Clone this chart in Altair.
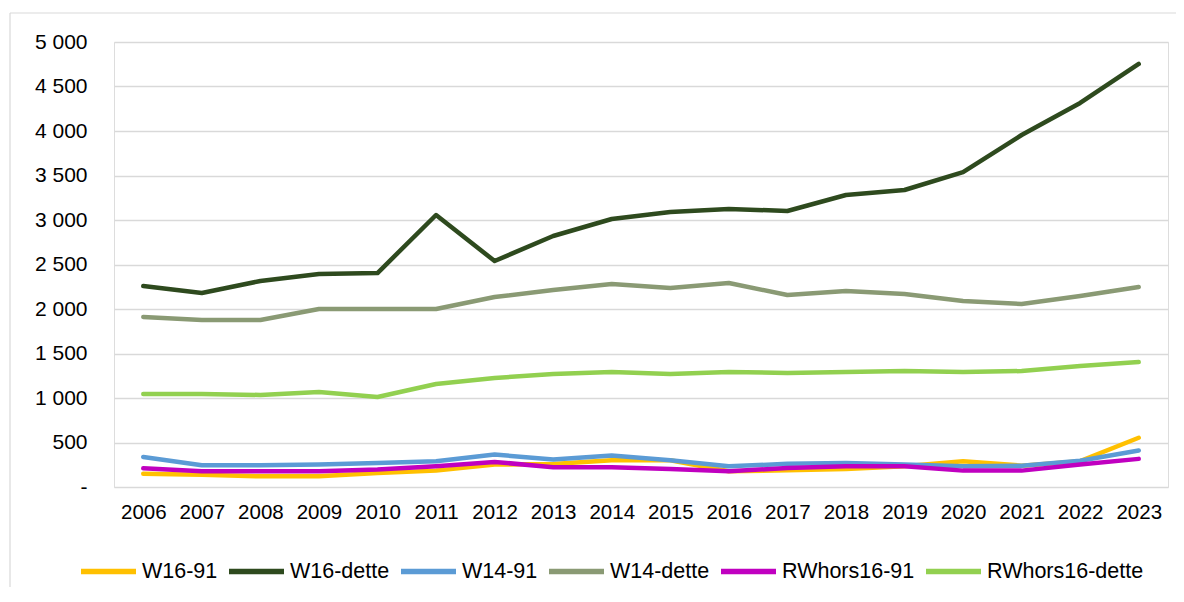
import altair as alt
import pandas as pd

years = [str(y) for y in range(2006, 2024)]
series_names = ["W16-91", "W16-dette", "W14-91", "W14-dette", "RWhors16-91", "RWhors16-dette"]
series_colors = ["#FFC000", "#2E4A1E", "#5B9BD5", "#8A9A74", "#C000C0", "#92D050"]

w16_91 = [150, 139, 120, 120, 158, 184, 252, 259, 300, 300, 177, 188, 203, 233, 290, 240, 290, 553]
w16_dette = [2258, 2180, 2315, 2393, 2404, 3056, 2539, 2820, 3011, 3090, 3124, 3101, 3281, 3337, 3539, 3955, 4315, 4753]
w14_91 = [338, 244, 244, 252, 270, 290, 365, 308, 355, 300, 233, 260, 270, 252, 233, 240, 295, 410]
w14_dette = [1910, 1876, 1876, 2000, 2000, 2000, 2135, 2213, 2281, 2236, 2292, 2157, 2202, 2168, 2090, 2056, 2146, 2247]
rw16_91 = [210, 177, 177, 177, 196, 233, 282, 222, 222, 203, 177, 214, 233, 233, 184, 184, 252, 316]
rw16_dette = [1045, 1045, 1034, 1067, 1011, 1157, 1225, 1270, 1292, 1270, 1292, 1281, 1292, 1303, 1292, 1303, 1360, 1404]

y_ticks = [0, 500, 1000, 1500, 2000, 2500, 3000, 3500, 4000, 4500, 5000]

all_series = [w16_91, w16_dette, w14_91, w14_dette, rw16_91, rw16_dette]
rows = []
for i, (name, vals) in enumerate(zip(series_names, all_series)):
    for y, v in zip(years, vals):
        rows.append({"year": y, "series": name, "value": v, "ord": i})
df = pd.DataFrame(rows)

FONT = "Liberation Sans"
W, H = 1054, 445

lines = alt.Chart(df).mark_line(strokeWidth=4.5, strokeCap="round", strokeJoin="round").encode(
    x=alt.X("year:N", sort=years, scale=alt.Scale(padding=0.5),
            axis=alt.Axis(title=None, domain=False, ticks=False, grid=False,
                          labelAngle=0, labelFontSize=20.5, labelPadding=15,
                          labelColor="#000000", labelFont=FONT)),
    y=alt.Y("value:Q", scale=alt.Scale(domain=[0, 5000], nice=False),
            axis=alt.Axis(title=None, values=y_ticks, domain=False, ticks=False,
                          gridColor="#d9d9d9", gridWidth=1.3,
                          labelFontSize=21, labelPadding=27, labelColor="#000000", labelFont=FONT,
                          labelExpr="datum.value == 0 ? '-\u00a0\u00a0' : replace(format(datum.value, ','), ',', ' ')")),
    color=alt.Color("series:N", scale=alt.Scale(domain=series_names, range=series_colors),
                    legend=alt.Legend(title=None, orient="none", direction="horizontal",
                                      legendX=-36, legendY=499, gridAlign="none",
                                      symbolType="stroke", symbolSize=3025, symbolStrokeWidth=5.5,
                                      labelFontSize=21.5, labelFont=FONT, labelColor="#000000",
                                      labelOffset=3, columnPadding=0, labelLimit=300)),
    order=alt.Order("ord:Q"),
    detail="series:N",
)

frame_df = pd.DataFrame({"k": [0]})
frame_top = alt.Chart(frame_df).mark_rule(stroke="#d9d9d9", strokeWidth=1.2).encode(
    x=alt.value(-104), x2=alt.value(W + 40), y=alt.value(-29)
)
frame_left = alt.Chart(frame_df).mark_rule(stroke="#d9d9d9", strokeWidth=1.2).encode(
    x=alt.value(-104), y=alt.value(-29), y2=alt.value(H + 120)
)

chart = alt.layer(frame_top, frame_left, lines).properties(
    width=W, height=H,
    autosize=alt.AutoSizeParams(type="none"),
    padding={"left": 106, "top": 34, "right": 8, "bottom": 100},
).configure_view(stroke=None).configure(font=FONT)

chart.save("out.html", embed_options={"renderer": "svg", "actions": False})
